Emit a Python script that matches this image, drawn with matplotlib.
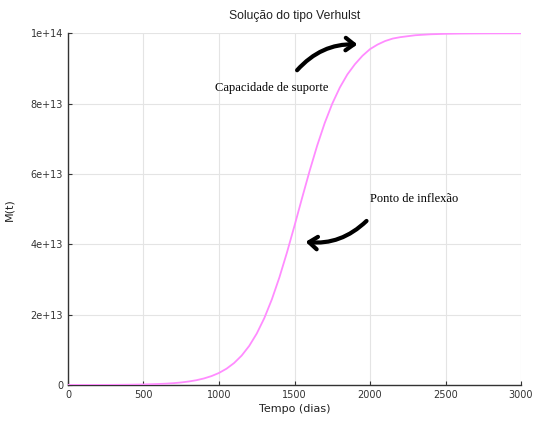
import matplotlib
matplotlib.use('Agg')
import matplotlib.pyplot as plt

# ── Data (M in units of 1e13) ─────────────────────────────────────
tempo = [0, 100, 200, 300, 400, 500, 600, 650, 700, 750, 800, 850, 900, 950,
         1000, 1050, 1100, 1150, 1200, 1250, 1300, 1350, 1400, 1450, 1500,
         1550, 1600, 1650, 1700, 1750, 1800, 1850, 1900, 1950, 2000, 2050,
         2100, 2150, 2200, 2300, 2400, 2500, 2600, 2700, 2800, 2900, 3000]
massa_e13 = [0.001, 0.001, 0.002, 0.004, 0.008, 0.015, 0.029, 0.039, 0.053,
             0.073, 0.100, 0.136, 0.186, 0.253, 0.343, 0.464, 0.625, 0.836,
             1.111, 1.463, 1.901, 2.434, 3.060, 3.766, 4.529, 5.315, 6.085,
             6.805, 7.448, 7.999, 8.457, 8.830, 9.120, 9.360, 9.550, 9.680,
             9.780, 9.850, 9.890, 9.945, 9.972, 9.986, 9.993, 9.996, 9.998,
             9.999, 10.0]
massa = [v * 1e13 for v in massa_e13]

xticks = [0, 500, 1000, 1500, 2000, 2500, 3000]
yticks = [0, 2e13, 4e13, 6e13, 8e13, 1e14]
ytick_labels = ['0', '2e+13', '4e+13', '6e+13', '8e+13', '1e+14']

fig = plt.figure(figsize=(5.34, 4.21), dpi=100)
ax = fig.add_axes([0.1273, 0.0855, 0.8484, 0.8354])

ax.plot(tempo, massa, color='#ff8cff', lw=1.3, zorder=3)

ax.set_xlim(0, 3000)
ax.set_ylim(0, 1e14)
ax.set_xticks(xticks)
ax.set_yticks(yticks)
ax.set_yticklabels(ytick_labels)
ax.grid(True, color='#e4e4e4', lw=0.8)
ax.set_axisbelow(True)
for s in ('top', 'right'):
    ax.spines[s].set_visible(False)
for s in ('left', 'bottom'):
    ax.spines[s].set_color('#333333')
    ax.spines[s].set_linewidth(1.0)
ax.tick_params(direction='in', length=3, labelsize=7, colors='#333333',
               labelcolor='#333333')

ax.set_title('Solução do tipo Verhulst', fontsize=8.7, color='#222222', pad=10,
             family='Liberation Sans')
ax.set_xlabel('Tempo (dias)', fontsize=8, color='#222222', labelpad=3)
ax.set_ylabel('M(t)', fontsize=8, color='#222222', labelpad=12)

# Annotations with curved arrows
head = '->, head_length=0.6, head_width=0.45'
ax.text(1350, 8.45e13, 'Capacidade de suporte', family='Liberation Serif',
        fontsize=9, ha='center', va='center')
ax.annotate('', xy=(1935, 9.68e13), xytext=(1505, 8.89e13),
            arrowprops=dict(arrowstyle=head, lw=3, color='black',
                            connectionstyle='arc3,rad=-0.25'))

ax.text(2290, 5.3e13, 'Ponto de inflexão', family='Liberation Serif',
        fontsize=9, ha='center', va='center')
ax.annotate('', xy=(1555, 4.08e13), xytext=(1990, 4.72e13),
            arrowprops=dict(arrowstyle=head, lw=3, color='black',
                            connectionstyle='arc3,rad=-0.25'))

fig.savefig('out.png', dpi=100)
